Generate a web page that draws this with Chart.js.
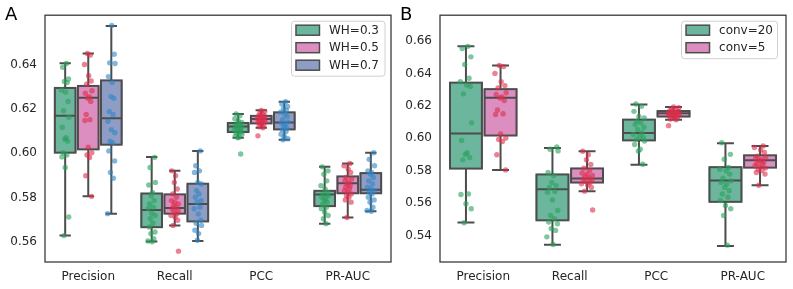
<!DOCTYPE html>
<html>
<head>
<meta charset="utf-8">
<script src="https://cdn.jsdelivr.net/npm/chart.js@4.4.1/dist/chart.umd.min.js"></script>
<style>
  body { margin: 0; background: #fff; width: 793px; height: 289px; position: relative; overflow: hidden; }
  .panel { position: absolute; top: 0; height: 289px; }
  #wrapA { left: 0; width: 396px; }
  #wrapB { left: 396px; width: 397px; }
</style>
</head>
<body>
<div class="panel" id="wrapA"><canvas id="chartA"></canvas></div>
<div class="panel" id="wrapB"><canvas id="chartB"></canvas></div>
<script>
const categories = ["Precision", "Recall", "PCC", "PR-AUC"];
const huesA = ["WH=0.3", "WH=0.5", "WH=0.7"];
const huesB = ["conv=20", "conv=5"];
const yTicksA = [0.56, 0.58, 0.60, 0.62, 0.64];
const yTicksB = [0.54, 0.56, 0.58, 0.60, 0.62, 0.64, 0.66];

// box stats per category: [whisker low, q1, median, q3, whisker high]
const boxWH03 = [[0.5628, 0.6002, 0.6169, 0.6294, 0.6405], [0.5602, 0.5666, 0.5743, 0.5818, 0.5982], [0.6069, 0.6095, 0.6120, 0.6136, 0.6177], [0.5682, 0.5761, 0.5813, 0.5830, 0.5938]];
const boxWH05 = [[0.5805, 0.6017, 0.6250, 0.6303, 0.6449], [0.5674, 0.5727, 0.5752, 0.5814, 0.5920], [0.6114, 0.6134, 0.6154, 0.6168, 0.6193], [0.5710, 0.5819, 0.5864, 0.5895, 0.5953]];
const boxWH07 = [[0.5727, 0.6038, 0.6157, 0.6328, 0.6573], [0.5604, 0.5692, 0.5771, 0.5862, 0.6010], [0.6060, 0.6107, 0.6138, 0.6184, 0.6232], [0.5738, 0.5819, 0.5835, 0.5910, 0.6002]];
const boxConv20 = [[0.5481, 0.5813, 0.6030, 0.6343, 0.6568], [0.5343, 0.5494, 0.5685, 0.5777, 0.5940], [0.5836, 0.5987, 0.6033, 0.6115, 0.6209], [0.5335, 0.5608, 0.5740, 0.5822, 0.5969]];
const boxConv5 = boxWH05;

// individual runs (strip points), one list per category
const ptsWH03 = [
  [0.6404, 0.6387, 0.6334, 0.6323, 0.6318, 0.6285, 0.6275, 0.6233, 0.6191, 0.6162, 0.6117, 0.6069, 0.6063, 0.6054, 0.6002, 0.5992, 0.5983, 0.5935, 0.5712, 0.5628],
  [0.5981, 0.5935, 0.5868, 0.5856, 0.5823, 0.5808, 0.5786, 0.5771, 0.5756, 0.5749, 0.5729, 0.5719, 0.5704, 0.5684, 0.5667, 0.5644, 0.5637, 0.5614, 0.5604, 0.5600],
  [0.6177, 0.6168, 0.6155, 0.6145, 0.6138, 0.6132, 0.6126, 0.6121, 0.6118, 0.6112, 0.6108, 0.6103, 0.6098, 0.6094, 0.6090, 0.6085, 0.6078, 0.6072, 0.6069, 0.5996],
  [0.5938, 0.5920, 0.5905, 0.5875, 0.5853, 0.5838, 0.5823, 0.5816, 0.5808, 0.5801, 0.5794, 0.5786, 0.5779, 0.5768, 0.5756, 0.5749, 0.5734, 0.5719, 0.5704, 0.5682]
];
const ptsWH05 = [
  [0.6449, 0.6442, 0.6400, 0.6349, 0.6325, 0.6311, 0.6281, 0.6270, 0.6255, 0.6248, 0.6233, 0.6174, 0.6151, 0.6147, 0.6027, 0.6002, 0.5992, 0.5980, 0.5898, 0.5805],
  [0.5920, 0.5898, 0.5868, 0.5838, 0.5816, 0.5801, 0.5786, 0.5779, 0.5771, 0.5764, 0.5756, 0.5749, 0.5741, 0.5734, 0.5726, 0.5719, 0.5712, 0.5697, 0.5674, 0.5558],
  [0.6193, 0.6188, 0.6182, 0.6175, 0.6170, 0.6166, 0.6162, 0.6158, 0.6155, 0.6152, 0.6150, 0.6146, 0.6142, 0.6138, 0.6134, 0.6130, 0.6125, 0.6119, 0.6114, 0.6078],
  [0.5953, 0.5943, 0.5928, 0.5913, 0.5890, 0.5883, 0.5875, 0.5868, 0.5861, 0.5853, 0.5846, 0.5838, 0.5831, 0.5823, 0.5816, 0.5808, 0.5801, 0.5789, 0.5779, 0.5710]
];
const ptsWH07 = [
  [0.6576, 0.6446, 0.6407, 0.6404, 0.6345, 0.6318, 0.6255, 0.6248, 0.6188, 0.6174, 0.6144, 0.6106, 0.6092, 0.6054, 0.6047, 0.6010, 0.5965, 0.5913, 0.5887, 0.5727],
  [0.6010, 0.5943, 0.5920, 0.5913, 0.5868, 0.5861, 0.5831, 0.5816, 0.5801, 0.5786, 0.5779, 0.5756, 0.5749, 0.5726, 0.5697, 0.5684, 0.5674, 0.5652, 0.5637, 0.5607],
  [0.6232, 0.6222, 0.6210, 0.6200, 0.6192, 0.6185, 0.6175, 0.6165, 0.6152, 0.6140, 0.6136, 0.6128, 0.6120, 0.6112, 0.6105, 0.6098, 0.6085, 0.6075, 0.6065, 0.6060],
  [0.6002, 0.5972, 0.5943, 0.5920, 0.5913, 0.5905, 0.5890, 0.5875, 0.5861, 0.5846, 0.5838, 0.5831, 0.5823, 0.5816, 0.5801, 0.5789, 0.5779, 0.5756, 0.5741, 0.5738]
];
const ptsConv20 = [
  [0.6567, 0.6553, 0.6502, 0.6455, 0.6370, 0.6349, 0.6329, 0.6319, 0.6274, 0.6095, 0.5987, 0.5911, 0.5901, 0.5881, 0.5867, 0.5657, 0.5653, 0.5596, 0.5565, 0.5479],
  [0.5946, 0.5932, 0.5922, 0.5789, 0.5769, 0.5728, 0.5708, 0.5697, 0.5671, 0.5667, 0.5620, 0.5555, 0.5524, 0.5504, 0.5483, 0.5473, 0.5443, 0.5432, 0.5392, 0.5345],
  [0.6211, 0.6197, 0.6166, 0.6135, 0.6125, 0.6105, 0.6095, 0.6085, 0.6068, 0.6054, 0.6034, 0.6023, 0.6013, 0.6003, 0.5993, 0.5983, 0.5962, 0.5932, 0.5921, 0.5840],
  [0.5972, 0.5901, 0.5871, 0.5820, 0.5809, 0.5799, 0.5779, 0.5754, 0.5738, 0.5728, 0.5718, 0.5697, 0.5677, 0.5656, 0.5636, 0.5616, 0.5585, 0.5565, 0.5524, 0.5341]
];
const ptsConv5 = ptsWH05;

// fixed strip jitter pattern (fraction of the allowed spread)
const jitter = [0.3, -0.6, 0.8, -0.2, 0.5, -0.9, 0.1, 0.7, -0.4, 0.9, -0.7, 0.2, -0.1, 0.6, -0.5, 0.4, -0.8, 0.0, 0.85, -0.3];

const boxFill = ["#6cb69d", "#db8ebf", "#8f9dc4"];
const dotColor = ["rgba(40,160,90,0.6)", "rgba(222,45,75,0.6)", "rgba(45,135,200,0.6)"];
const lineGray = "#4d4d4d";
const textGray = "#262626";
const FONT = '"DejaVu Sans", sans-serif';

// box, whiskers, caps and median drawn from the x / y scales after each box dataset
const boxPlot = {
  id: "boxPlot",
  afterDatasetDraw(chart, args) {
    const ds = chart.data.datasets[args.index];
    if (!ds.stats) return;
    const x = chart.scales.x, y = chart.scales.y, ctx = chart.ctx;
    const half = (x.getPixelForValue(ds.boxWidth) - x.getPixelForValue(0)) / 2;
    const cap = half / 2;
    ctx.save();
    ctx.strokeStyle = lineGray;
    ctx.lineWidth = 2;
    ds.data.forEach((p, i) => {
      const [lo, q1, med, q3, hi] = ds.stats[i];
      const cx = x.getPixelForValue(p.x);
      const top = y.getPixelForValue(q3), bot = y.getPixelForValue(q1);
      ctx.fillStyle = ds.backgroundColor;
      ctx.fillRect(cx - half, top, half * 2, bot - top);
      ctx.strokeRect(cx - half + 1, top, half * 2 - 2, bot - top);
      ctx.beginPath();
      ctx.moveTo(cx - half + 1, y.getPixelForValue(med));
      ctx.lineTo(cx + half - 1, y.getPixelForValue(med));
      ctx.moveTo(cx, top);
      ctx.lineTo(cx, y.getPixelForValue(hi));
      ctx.moveTo(cx - cap, y.getPixelForValue(hi));
      ctx.lineTo(cx + cap, y.getPixelForValue(hi));
      ctx.moveTo(cx, bot);
      ctx.lineTo(cx, y.getPixelForValue(lo));
      ctx.moveTo(cx - cap, y.getPixelForValue(lo));
      ctx.lineTo(cx + cap, y.getPixelForValue(lo));
      ctx.stroke();
    });
    ctx.restore();
  }
};

// axes frame, legend box and panel letter
const decor = {
  id: "decor",
  afterDraw(chart, args, opts) {
    const { ctx, chartArea: a } = chart;
    ctx.save();
    ctx.strokeStyle = "#333";
    ctx.lineWidth = 1.25;
    ctx.strokeRect(a.left, a.top, a.right - a.left, a.bottom - a.top);

    const items = chart.data.datasets.filter(d => d.stats);
    ctx.font = "12px " + FONT;
    const tw = Math.max(...items.map(d => ctx.measureText(d.label).width));
    const w = 4.5 + 23.5 + 9.5 + tw + opts.textPad;
    const h = 20 + (items.length - 1) * 17.5;
    const lx = a.right - opts.legendGap - w, ly = a.top + 6;
    ctx.beginPath();
    ctx.roundRect(lx, ly, w, h, 3);
    ctx.fillStyle = "rgba(255,255,255,0.8)";
    ctx.fill();
    ctx.strokeStyle = "#d0d0d0";
    ctx.lineWidth = 1;
    ctx.stroke();
    items.forEach((d, i) => {
      const cy = ly + 9 + i * 17.5;
      ctx.fillStyle = d.backgroundColor;
      ctx.fillRect(lx + 4.5, cy - 5, 23.5, 10);
      ctx.strokeStyle = lineGray;
      ctx.lineWidth = 1.5;
      ctx.strokeRect(lx + 4.5, cy - 5, 23.5, 10);
      ctx.fillStyle = textGray;
      ctx.textBaseline = "middle";
      ctx.fillText(d.label, lx + 37.5, cy + 0.5);
    });

    ctx.font = "18px " + FONT;
    ctx.fillStyle = "#000";
    ctx.textBaseline = "alphabetic";
    ctx.fillText(opts.tag, opts.tagX, 20);
    ctx.restore();
  }
};

function buildChart(id, hues, boxes, points, yTicks, yMin, yMax, axisW, padRight, tag, tagX, legendGap, textPad) {
  const n = hues.length;
  const slot = 0.8 / n;
  const datasets = [];
  hues.forEach((h, k) => {
    const off = -0.4 + slot * (k + 0.5);
    datasets.push({
      label: h,
      data: boxes[k].map((s, c) => ({ x: c + off, y: s[2] })),
      stats: boxes[k],
      boxWidth: slot * 0.98,
      backgroundColor: boxFill[k],
      pointRadius: 0,
      order: 2
    });
  });
  hues.forEach((h, k) => {
    const off = -0.4 + slot * (k + 0.5);
    const data = [];
    points[k].forEach((vals, c) => {
      vals.forEach((v, j) => {
        data.push({ x: c + off + jitter[(j + c * 7 + k * 3) % jitter.length] * slot * 0.18, y: v });
      });
    });
    datasets.push({
      label: h + " runs",
      data: data,
      backgroundColor: dotColor[k],
      borderWidth: 0,
      pointRadius: 2.7,
      order: 1
    });
  });

  return new Chart(document.getElementById(id), {
    type: "scatter",
    data: { datasets: datasets },
    options: {
      responsive: true,
      maintainAspectRatio: false,
      animation: false,
      events: [],
      layout: { padding: { left: 0, right: padRight, top: 13, bottom: 0 } },
      plugins: {
        legend: { display: false },
        tooltip: { enabled: false },
        decor: { tag: tag, tagX: tagX, legendGap: legendGap, textPad: textPad }
      },
      scales: {
        x: {
          type: "linear",
          min: -0.5,
          max: 3.5,
          grid: { display: false, drawTicks: false },
          border: { display: false },
          afterBuildTicks(s) { s.ticks = categories.map((c, i) => ({ value: i })); },
          ticks: {
            color: textGray,
            font: { family: FONT, size: 12 },
            padding: 8,
            maxRotation: 0,
            callback: v => categories[v]
          },
          afterFit(s) { s.height = 27; }
        },
        y: {
          min: yMin,
          max: yMax,
          grid: { display: false, drawTicks: false },
          border: { display: false },
          afterBuildTicks(s) { s.ticks = yTicks.map(v => ({ value: v })); },
          ticks: {
            color: textGray,
            font: { family: FONT, size: 12 },
            padding: 8,
            callback: v => v.toFixed(2)
          },
          afterFit(s) { s.width = axisW; }
        }
      }
    },
    plugins: [boxPlot, decor]
  });
}

buildChart("chartA", huesA, [boxWH03, boxWH05, boxWH07], [ptsWH03, ptsWH05, ptsWH07],
  yTicksA, 0.5509, 0.6622, 45, 5, "A", 5, 6, 6);
buildChart("chartB", huesB, [boxConv20, boxConv5], [ptsConv20, ptsConv5],
  yTicksB, 0.5237, 0.6759, 44, 7, "B", 4, 8.5, 4.5);
</script>
</body>
</html>
